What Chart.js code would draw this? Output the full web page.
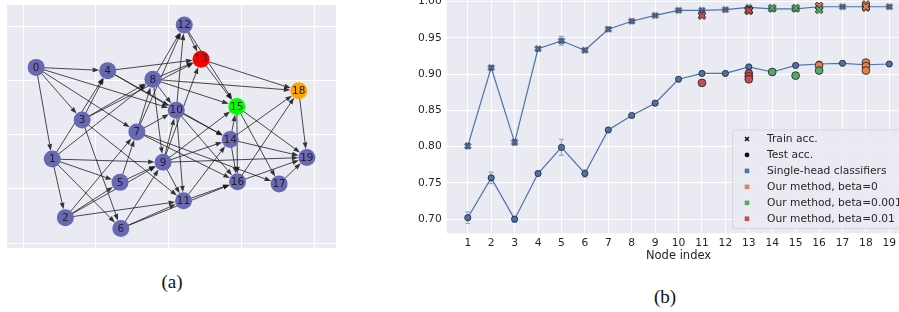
<!DOCTYPE html>
<html>
<head>
<meta charset="utf-8">
<script src="https://cdn.jsdelivr.net/npm/chart.js@4.4.0/dist/chart.umd.min.js"></script>
<style>
  body { margin: 0; width: 899px; height: 312px; overflow: hidden; background: #fff; position: relative; }
  #wrapA { position: absolute; left: 0; top: 0; }
  #wrapB { position: absolute; left: 380px; top: 0; }
  .cap { position: absolute; font-family: "Liberation Serif", "DejaVu Serif", serif; font-size: 19px; color: #111; transform: translate(-50%, -50%); }
</style>
</head>
<body>
<div id="wrapA"><canvas id="graphChart" width="345" height="255"></canvas></div>
<div id="wrapB"><canvas id="accChart" width="540" height="270"></canvas></div>
<div class="cap" style="left:172px; top:282px;">(a)</div>
<div class="cap" style="left:665px; top:297px;">(b)</div>
<script>
// ---- (a) graph layout ----
const nodeLabels = ["0","1","2","3","4","5","6","7","8","9","10","11","12","13","14","15","16","17","18","19"];
const nodeX = [0.18, 0.40, 0.58, 0.81, 1.16, 1.33, 1.34, 1.56, 1.78, 1.92, 2.10, 2.20, 2.21, 2.44, 2.84, 2.93, 2.94, 3.51, 3.78, 3.89];
const nodeY = [3.24, 1.55, 0.47, 2.27, 3.18, 1.12, 0.27, 2.05, 3.02, 1.49, 2.45, 0.78, 4.02, 3.39, 1.91, 2.52, 1.13, 1.09, 2.81, 1.58];
const nodeColors = ["#6868b4","#6868b4","#6868b4","#6868b4","#6868b4","#6868b4","#6868b4","#6868b4","#6868b4","#6868b4",
  "#6868b4","#6868b4","#6868b4","#ff0000","#6868b4","#00ff00","#6868b4","#6868b4","#ffa500","#6868b4"];
const edgeFrom = [0,0,0,0,0, 1,1,1,1,1,1, 2,2,2,2, 3,3,3,3,3, 4,4,4, 5,5, 6,6,6, 7,7,7,7,7,
  8,8,8,8,8,8, 9,9,9,9,9,9, 10,10,10,10, 11,11, 12,12, 13,13, 14,14,14,14, 15,15,15, 16,16, 17, 18];
const edgeTo = [1,3,4,7,10, 2,4,5,6,8,9, 5,7,9,11, 4,6,8,11,13, 10,13,14, 7,9, 9,11,16, 8,10,12,16,17,
  9,10,12,13,15,18, 10,11,13,14,15,19, 11,12,14,16, 14,16, 13,15, 15,18, 15,16,18,19, 16,17,19, 18,19, 19, 19];
const gridTicks = [0, 1, 2, 3, 4];

// ---- (b) accuracy per node ----
const nodeIdx = [1,2,3,4,5,6,7,8,9,10,11,12,13,14,15,16,17,18,19];
const singleTrain = [0.801,0.909,0.806,0.935,0.946,0.933,0.962,0.973,0.981,0.988,0.988,0.989,0.992,0.990,0.990,0.993,0.993,0.993,0.993];
const singleTrainErr = [0.004,0.002,0.004,0.002,0.006,0.002,0.002,0.002,0.001,0.001,0.001,0.001,0.001,0.001,0.001,0.001,0.001,0.001,0.001];
const singleTest = [0.702,0.757,0.700,0.763,0.799,0.763,0.823,0.843,0.860,0.893,0.901,0.901,0.910,0.903,0.912,0.914,0.915,0.913,0.914];
const singleTestErr = [0.008,0.008,0.004,0.003,0.011,0.005,0.002,0.002,0.002,0.002,0.001,0.001,0.002,0.001,0.002,0.001,0.001,0.002,0.001];
const beta0Node = [16, 18, 18, 18];
const beta0Train = [0.994, 0.996, 0.992, 0.993];
const beta0Test = [0.912, 0.916, 0.911, 0.905];
const beta001Node = [14, 15, 16];
const beta001Train = [0.991, 0.991, 0.989];
const beta001Test = [0.903, 0.898, 0.905];
const beta01Node = [11, 13, 13, 13];
const beta01Train = [0.981, 0.988, 0.988, 0.988];
const beta01Test = [0.888, 0.901, 0.897, 0.893];
const yTicks = [0.70, 0.75, 0.80, 0.85, 0.90, 0.95, 1.00];
const legendLabels = ["Train acc.", "Test acc.", "Single-head classifiers", "Our method, beta=0", "Our method, beta=0.001", "Our method, beta=0.01"];

const BLUE = "#4c72b0", ORANGE = "#dd8452", GREEN = "#55a868", RED = "#c44e52";
const AX_BG = "#eaeaf2";
const TXT = "#262626";

// filled "X" marker with dark edge, like matplotlib's 'X'
function makeX(fill, size) {
  const pad = 2;
  const c = document.createElement("canvas");
  c.width = c.height = size + pad * 2;
  const ctx = c.getContext("2d");
  const h = size / 2, t = size * 0.16;
  ctx.translate(c.width / 2, c.height / 2);
  ctx.rotate(Math.PI / 4);
  ctx.beginPath();
  ctx.moveTo(-t, -h); ctx.lineTo(t, -h); ctx.lineTo(t, -t); ctx.lineTo(h, -t);
  ctx.lineTo(h, t); ctx.lineTo(t, t); ctx.lineTo(t, h); ctx.lineTo(-t, h);
  ctx.lineTo(-t, t); ctx.lineTo(-h, t); ctx.lineTo(-h, -t); ctx.lineTo(-t, -t);
  ctx.closePath();
  ctx.fillStyle = fill;
  ctx.fill();
  ctx.strokeStyle = "rgba(20,20,20,0.85)";
  ctx.lineWidth = 0.9;
  ctx.stroke();
  return c;
}

const axesBg = {
  id: "axesBg",
  beforeDraw(chart) {
    const { ctx, chartArea: a } = chart;
    ctx.save();
    ctx.fillStyle = AX_BG;
    ctx.fillRect(a.left, a.top, a.right - a.left, a.bottom - a.top);
    ctx.restore();
  }
};

// ---------- (a) ----------
const NODE_R = 8.5;
const graphEdges = {
  id: "graphEdges",
  beforeDatasetsDraw(chart) {
    const { ctx, scales } = chart;
    ctx.save();
    ctx.strokeStyle = "rgba(20,20,20,0.85)";
    ctx.fillStyle = "rgba(20,20,20,0.85)";
    ctx.lineWidth = 0.9;
    for (let k = 0; k < edgeFrom.length; k++) {
      const a = edgeFrom[k], b = edgeTo[k];
      const x1 = scales.x.getPixelForValue(nodeX[a]), y1 = scales.y.getPixelForValue(nodeY[a]);
      const x2 = scales.x.getPixelForValue(nodeX[b]), y2 = scales.y.getPixelForValue(nodeY[b]);
      const len = Math.hypot(x2 - x1, y2 - y1);
      const ux = (x2 - x1) / len, uy = (y2 - y1) / len;
      const tipX = x2 - ux * NODE_R, tipY = y2 - uy * NODE_R;
      const headL = 6.5, headW = 2.4;
      const baseX = tipX - ux * headL, baseY = tipY - uy * headL;
      ctx.beginPath();
      ctx.moveTo(x1, y1);
      ctx.lineTo(baseX, baseY);
      ctx.stroke();
      ctx.beginPath();
      ctx.moveTo(tipX, tipY);
      ctx.lineTo(baseX - uy * headW, baseY + ux * headW);
      ctx.lineTo(baseX + uy * headW, baseY - ux * headW);
      ctx.closePath();
      ctx.fill();
    }
    ctx.restore();
  },
  afterDatasetsDraw(chart) {
    const { ctx, scales } = chart;
    ctx.save();
    ctx.font = "10.5px 'DejaVu Sans'";
    ctx.fillStyle = "#222";
    ctx.textAlign = "center";
    ctx.textBaseline = "middle";
    nodeLabels.forEach((lab, i) => {
      ctx.fillText(lab, scales.x.getPixelForValue(nodeX[i]), scales.y.getPixelForValue(nodeY[i]) + 0.5);
    });
    ctx.restore();
  }
};

const hiddenAxis = (min, max, horizontal) => ({
  type: "linear",
  min: min,
  max: max,
  border: { display: false },
  grid: { color: "#ffffff", lineWidth: 1, drawTicks: false },
  ticks: { display: false },
  afterBuildTicks: (s) => { s.ticks = gridTicks.map((v) => ({ value: v })); },
  afterFit: (s) => { if (horizontal) s.height = 0; else s.width = 0; }
});

new Chart(document.getElementById("graphChart"), {
  type: "scatter",
  data: {
    datasets: [{
      data: nodeX.map((x, i) => ({ x: x, y: nodeY[i] })),
      pointRadius: NODE_R,
      pointHoverRadius: NODE_R,
      pointBackgroundColor: nodeColors,
      pointBorderWidth: 0,
      clip: false
    }]
  },
  options: {
    responsive: false,
    animation: false,
    events: [],
    layout: { autoPadding: false, padding: { left: 7, top: 5, right: 9, bottom: 7 } },
    plugins: { legend: { display: false }, tooltip: { enabled: false } },
    scales: {
      x: hiddenAxis(-0.22, 4.29, true),
      y: hiddenAxis(-0.09, 4.39, false)
    }
  },
  plugins: [axesBg, graphEdges]
});

// ---------- (b) ----------
const xSmallBlue = makeX(BLUE, 6.5);
const xBig = { o: makeX(ORANGE, 8.5), g: makeX(GREEN, 8.5), r: makeX(RED, 8.5) };

const errorBars = {
  id: "errorBars",
  beforeDatasetsDraw(chart) {
    const { ctx, scales } = chart;
    ctx.save();
    ctx.strokeStyle = "rgba(76,114,176,0.55)";
    ctx.lineWidth = 1.2;
    const draw = (vals, errs) => {
      nodeIdx.forEach((n, i) => {
        const x = scales.x.getPixelForValue(n);
        const yLo = scales.y.getPixelForValue(vals[i] - errs[i]);
        const yHi = scales.y.getPixelForValue(vals[i] + errs[i]);
        ctx.beginPath();
        ctx.moveTo(x, yLo); ctx.lineTo(x, yHi);
        ctx.moveTo(x - 2.5, yLo); ctx.lineTo(x + 2.5, yLo);
        ctx.moveTo(x - 2.5, yHi); ctx.lineTo(x + 2.5, yHi);
        ctx.stroke();
      });
    };
    draw(singleTrain, singleTrainErr);
    draw(singleTest, singleTestErr);
    ctx.restore();
  }
};

const legendBox = {
  id: "legendBox",
  afterDraw(chart) {
    const { ctx } = chart;
    const bx = 352.7, by = 130, bw = 200, bh = 98.7, r = 3;
    ctx.save();
    ctx.beginPath();
    ctx.moveTo(bx + r, by);
    ctx.lineTo(bx + bw - r, by); ctx.arcTo(bx + bw, by, bx + bw, by + r, r);
    ctx.lineTo(bx + bw, by + bh - r); ctx.arcTo(bx + bw, by + bh, bx + bw - r, by + bh, r);
    ctx.lineTo(bx + r, by + bh); ctx.arcTo(bx, by + bh, bx, by + bh - r, r);
    ctx.lineTo(bx, by + r); ctx.arcTo(bx, by, bx + r, by, r);
    ctx.closePath();
    ctx.fillStyle = "rgba(234,234,242,0.85)";
    ctx.fill();
    ctx.strokeStyle = "#d4d4dc";
    ctx.lineWidth = 1;
    ctx.stroke();

    const mx = 367, tx = 387, y0 = 139, dy = 15.95;
    ctx.font = "10.7px 'DejaVu Sans'";
    ctx.textBaseline = "middle";
    ctx.textAlign = "left";
    legendLabels.forEach((lab, i) => {
      const y = y0 + i * dy;
      if (i === 0) {
        ctx.strokeStyle = "#111"; ctx.lineWidth = 1.6;
        ctx.beginPath();
        ctx.moveTo(mx - 2, y - 2); ctx.lineTo(mx + 2, y + 2);
        ctx.moveTo(mx + 2, y - 2); ctx.lineTo(mx - 2, y + 2);
        ctx.stroke();
      } else if (i === 1) {
        ctx.fillStyle = "#111";
        ctx.beginPath(); ctx.arc(mx, y, 2.4, 0, Math.PI * 2); ctx.fill();
      } else {
        ctx.fillStyle = [BLUE, ORANGE, GREEN, RED][i - 2];
        ctx.fillRect(mx - 2.3, y - 2.3, 4.6, 4.6);
      }
      ctx.fillStyle = TXT;
      ctx.fillText(lab, tx, y + 0.5);
    });
    ctx.restore();
  }
};

const pts = (xs, ys) => xs.map((x, i) => ({ x: x, y: ys[i] }));
const testDot = (color, r) => ({
  showLine: false,
  pointStyle: "circle",
  pointRadius: r,
  pointHoverRadius: r,
  pointBackgroundColor: color,
  pointBorderColor: "rgba(25,25,25,0.85)",
  pointBorderWidth: 0.9,
  clip: false
});

new Chart(document.getElementById("accChart"), {
  type: "scatter",
  data: {
    datasets: [
      Object.assign({ data: pts(beta01Node, beta01Test), order: 0 }, testDot(RED, 3.9)),
      { data: pts(beta01Node, beta01Train), pointStyle: xBig.r, showLine: false, order: 0, clip: false },
      Object.assign({ data: pts(beta001Node, beta001Test), order: 0 }, testDot(GREEN, 3.9)),
      { data: pts(beta001Node, beta001Train), pointStyle: xBig.g, showLine: false, order: 0, clip: false },
      Object.assign({ data: pts(beta0Node, beta0Test), order: 0 }, testDot(ORANGE, 3.9)),
      { data: pts(beta0Node, beta0Train), pointStyle: xBig.o, showLine: false, order: 0, clip: false },
      Object.assign({ data: pts(nodeIdx, singleTest), order: 1 }, testDot(BLUE, 3.1), { showLine: true, borderColor: BLUE, borderWidth: 1.2 }),
      { data: pts(nodeIdx, singleTrain), pointStyle: xSmallBlue, showLine: true, borderColor: BLUE, borderWidth: 1.2, order: 1, clip: false }
    ]
  },
  options: {
    responsive: false,
    animation: false,
    events: [],
    layout: { autoPadding: false, padding: { left: 0, top: 0, right: 9.6, bottom: 0 } },
    plugins: { legend: { display: false }, tooltip: { enabled: false } },
    scales: {
      x: {
        type: "linear",
        min: 0.1,
        max: 19.9,
        border: { display: false },
        grid: { color: "#ffffff", lineWidth: 1, drawTicks: false },
        ticks: {
          color: TXT,
          font: { family: "DejaVu Sans", size: 10.7 },
          padding: 3.5,
          autoSkip: false,
          maxRotation: 0,
          callback: (v) => String(v)
        },
        title: {
          display: true,
          text: "Node index",
          color: TXT,
          font: { family: "DejaVu Sans", size: 11.5 },
          padding: { top: 0, bottom: 7.1 }
        },
        afterBuildTicks: (s) => { s.ticks = nodeIdx.map((v) => ({ value: v })); },
        afterFit: (s) => { s.height = 36.7; s.paddingLeft = 0; s.paddingRight = 0; }
      },
      y: {
        type: "linear",
        min: 0.6805,
        max: 1.0023,
        border: { display: false },
        grid: { color: "#ffffff", lineWidth: 1, drawTicks: false },
        ticks: {
          color: TXT,
          font: { family: "DejaVu Sans", size: 10.7 },
          padding: 5,
          callback: (v) => v.toFixed(2)
        },
        afterBuildTicks: (s) => { s.ticks = yTicks.map((v) => ({ value: v })); },
        afterFit: (s) => { s.width = 66.7; s.paddingTop = 0; s.paddingBottom = 0; }
      }
    }
  },
  plugins: [axesBg, errorBars, legendBox]
});
</script>
</body>
</html>
